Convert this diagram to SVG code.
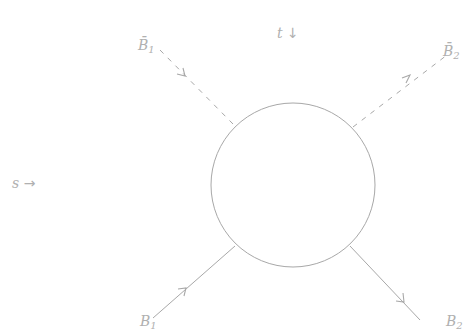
<svg xmlns="http://www.w3.org/2000/svg" width="475" height="332" viewBox="0 0 475 332">
<defs>
<style>
.ln{stroke:#a8a8a8;stroke-width:1;fill:none}
.dash{stroke-dasharray:5,6}
.ar{stroke:#a8a8a8;stroke-width:1.1;fill:none}
.lb{font-family:"DejaVu Serif",serif;font-style:italic;font-size:14px;fill:#b0b0b0}
.sym{font-family:"DejaVu Sans",sans-serif;font-style:normal}
</style>
</defs>
<rect width="475" height="332" fill="#fff"/>
<g id="blob"><circle class="ln" cx="293" cy="185" r="82"/></g>
<g id="connectors">
<line class="ln dash" x1="160" y1="50" x2="233" y2="124"/>
<path class="ar" d="M177,74 L185,76 L183,68"/>
<line class="ln dash" x1="353" y1="127" x2="447" y2="55"/>
<path class="ar" d="M402,78 L410,75 L406,83"/>
<line class="ln" x1="153" y1="318" x2="235" y2="246"/>
<path class="ar" d="M178,289 L186,288 L184,296"/>
<line class="ln" x1="350" y1="246" x2="420" y2="320"/>
<path class="ar" d="M396,301 L404,302 L403,293"/>
</g>
<g id="labels">
<text class="lb" x="138" y="50">B̄<tspan font-size="10" dy="3">1</tspan></text>
<text class="lb" x="443" y="56">B̄<tspan font-size="10" dy="3">2</tspan></text>
<text class="lb" x="140" y="326">B<tspan font-size="10" dy="3">1</tspan></text>
<text class="lb" x="446" y="326">B<tspan font-size="10" dy="3">2</tspan></text>
<text class="lb" x="277" y="38">t <tspan class="sym">↓</tspan></text>
<text class="lb" x="12" y="188">s <tspan class="sym">→</tspan></text>
</g>
</svg>
